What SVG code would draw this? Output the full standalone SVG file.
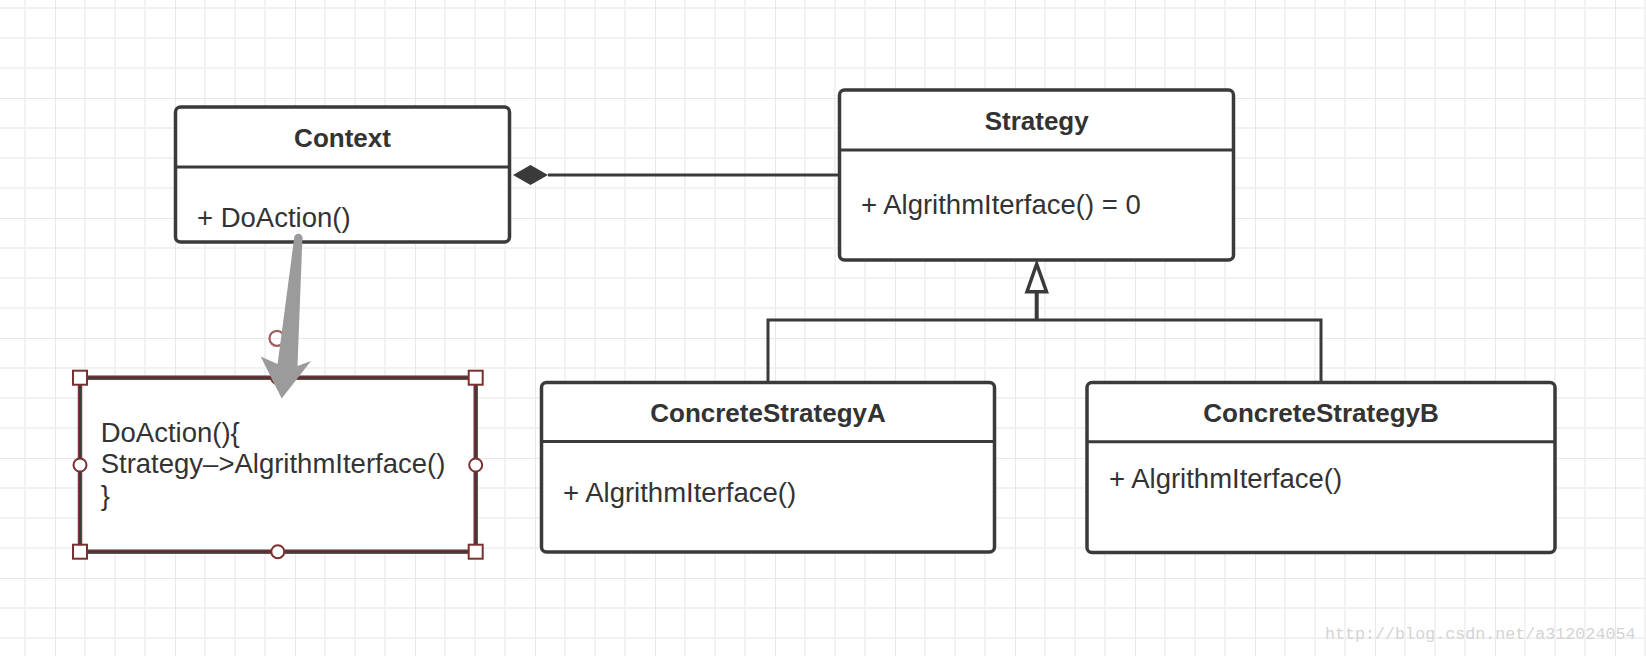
<svg xmlns="http://www.w3.org/2000/svg" width="1646" height="656" viewBox="0 0 1646 656">
<style>
.box{fill:#fff;stroke:#3a3a3a;stroke-width:3.5}
.div{stroke:#3a3a3a;stroke-width:3}
.title{font-family:"Liberation Sans",Arial,sans-serif;font-size:26px;font-weight:bold;fill:#333;text-anchor:middle}
.mem{font-family:"Liberation Sans",Arial,sans-serif;font-size:27.5px;fill:#333}
.line{stroke:#3a3a3a;stroke-width:3;fill:none}
.h{fill:#fff;stroke:#7b2f2f;stroke-width:2}
</style>
<defs>
<pattern id="grid" patternUnits="userSpaceOnUse" x="55" y="98" width="120" height="120">
<path d="M30 0V120M60 0V120M90 0V120M0 30H120M0 60H120M0 90H120" stroke="#f2f2f2" stroke-width="2"/>
<path d="M0 0V120M0 0H120" stroke="#e8e8e8" stroke-width="2"/>
</pattern>
</defs>
<rect width="1646" height="656" fill="#fff"/>
<rect width="1646" height="656" fill="url(#grid)"/>
<text x="1325" y="639" font-family="Liberation Mono,monospace" font-size="16.7" fill="#d4d4d4">http://blog.csdn.net/a312024054</text>

<g id="connectors">
<path class="line" d="M548 175H840"/>
<polygon points="513,175 530.5,165 548,175 530.5,185" fill="#3a3a3a"/>
<path class="line" d="M768 382.5V320H1321V382.5"/>
<path d="M1036.7 320V292" stroke="#3a3a3a" stroke-width="4" fill="none"/>
<polygon points="1036.7,264 1046.5,291.7 1027,291.7" fill="#fff" stroke="#3a3a3a" stroke-width="3.5" stroke-linejoin="miter"/>
</g>

<g id="context">
<rect class="box" x="175.5" y="107" width="334" height="135" rx="5"/>
<path class="div" d="M175.5 167H509.5"/>
<text class="title" x="342.5" y="147">Context</text>
<text class="mem" x="197" y="227">+ DoAction()</text>
</g>

<g id="strategy">
<rect class="box" x="839.5" y="90" width="394" height="170" rx="5"/>
<path class="div" d="M839.5 150H1233.5"/>
<text class="title" x="1036.7" y="130">Strategy</text>
<text class="mem" x="861" y="214">+ AlgrithmIterface() = 0</text>
</g>

<g id="concreteA">
<rect class="box" x="541.5" y="382.5" width="453" height="169.5" rx="5"/>
<path class="div" d="M541.5 441.5H994.5"/>
<text class="title" x="768" y="421.7">ConcreteStrategyA</text>
<text class="mem" x="563" y="501.7">+ AlgrithmIterface()</text>
</g>

<g id="concreteB">
<rect class="box" x="1087" y="382.5" width="468" height="170" rx="5"/>
<path class="div" d="M1087 441.7H1555"/>
<text class="title" x="1321" y="421.7">ConcreteStrategyB</text>
<text class="mem" x="1109" y="488.3">+ AlgrithmIterface()</text>
</g>

<g id="note">
<rect x="80" y="377.7" width="395.7" height="174" fill="#fff" stroke="#7a3b3b" stroke-width="4.5"/>
<rect x="80" y="377.7" width="395.7" height="174" fill="none" stroke="#3a3a3a" stroke-width="2"/>
<text class="mem" x="100.7" y="441.7">DoAction(){</text>
<text class="mem" x="100.7" y="473">Strategy–&gt;AlgrithmIterface()</text>
<text class="mem" x="100.7" y="505">}</text>
<rect class="h" x="73" y="370.7" width="14" height="14"/>
<rect class="h" x="468.7" y="370.7" width="14" height="14"/>
<rect class="h" x="73" y="544.7" width="14" height="14"/>
<rect class="h" x="468.7" y="544.7" width="14" height="14"/>
<circle class="h" cx="80" cy="465" r="6.5"/>
<circle class="h" cx="475.7" cy="465" r="6.5"/>
<circle class="h" cx="277.8" cy="551.7" r="6.5"/>
<circle class="h" cx="277.8" cy="377.7" r="6.5"/>
<circle cx="277" cy="338.3" r="7.5" fill="none" stroke="#a45a5a" stroke-width="2.2"/>
</g>

<g id="pointer">
<circle cx="298.3" cy="238" r="4.2" fill="#9b9b9b"/>
<polygon points="294.2,238 302.4,238 297.5,366 311,361 281.7,398.5 260.7,356.5 277.6,364" fill="#9b9b9b"/>
</g>
</svg>
